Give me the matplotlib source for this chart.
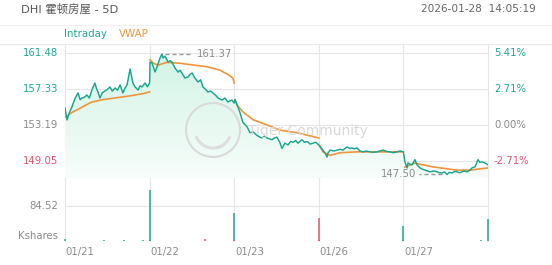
import matplotlib
matplotlib.use("Agg")
import matplotlib.pyplot as plt
import numpy as np
from matplotlib.lines import Line2D
from matplotlib.patches import Circle, Arc
from matplotlib.colors import LinearSegmentedColormap

plt.rcParams['font.family'] = ['DejaVu Sans', 'Noto Sans CJK SC']

# ---------------- data ----------------
title = "DHI 霍顿房屋 - 5D"
timestamp = "2026-01-28  14:05:19"
day_labels = ["01/21", "01/22", "01/23", "01/26", "01/27"]
prev_close = 153.19
price_ticks = [161.48, 157.33, 153.19, 149.05]
pct_labels = ["5.41%", "2.71%", "0.00%", "-2.71%"]
vol_tick = 84.52

# minutes since open / intraday price, per day
d1_min = [0, 9, 20, 32, 45, 60, 70, 78, 90, 101, 112, 124, 138, 145, 152, 161, 172, 184, 196, 207, 218, 231, 242, 254, 267, 276, 286, 300, 313, 323, 337, 346, 355, 369, 380, 390]
d1_px = [155.15, 153.77, 154.60, 155.27, 156.20, 156.88, 156.10, 156.30, 156.40, 156.65, 156.30, 157.22, 158.03, 157.40, 156.99, 156.30, 156.90, 157.11, 157.30, 157.57, 157.10, 157.45, 157.20, 157.80, 156.88, 157.40, 157.80, 159.64, 158.03, 157.57, 157.22, 157.70, 157.57, 158.03, 157.60, 158.03]
d1_vwap_min = [0, 30, 75, 120, 170, 230, 300, 360, 390]
d1_vwap = [154.10, 154.60, 155.20, 155.80, 156.10, 156.30, 156.55, 156.80, 157.00]

d2_min = [2, 11, 25, 34, 48, 57, 62, 71, 85, 95, 103, 117, 131, 140, 149, 163, 177, 186, 196, 209, 223, 235, 246, 258, 269, 281, 292, 305, 315, 334, 347, 361, 379, 390]
d2_px = [160.44, 160.33, 159.30, 159.87, 160.90, 161.37, 160.90, 161.13, 160.44, 160.60, 160.44, 159.75, 159.29, 159.50, 159.18, 158.60, 158.72, 159.00, 159.18, 158.60, 158.14, 158.40, 157.57, 157.30, 156.99, 157.10, 156.88, 156.60, 156.30, 156.07, 156.30, 155.84, 156.07, 155.72]
d2_vwap_min = [2, 17, 39, 80, 140, 200, 265, 325, 361, 384, 390]
d2_vwap = [160.70, 160.30, 160.10, 160.40, 160.30, 160.10, 159.90, 159.50, 159.00, 158.60, 158.03]

d3_min = [4, 13, 27, 40, 59, 73, 87, 105, 118, 128, 140, 151, 163, 174, 186, 197, 210, 220, 234, 248, 260, 271, 284, 294, 312, 324, 336, 350, 363, 376, 390]
d3_px = [156.10, 155.50, 154.60, 153.50, 153.00, 152.30, 152.40, 152.00, 151.80, 151.70, 151.90, 151.70, 151.60, 151.50, 151.70, 151.80, 151.20, 150.50, 151.10, 150.90, 151.30, 151.20, 151.40, 151.10, 151.50, 151.20, 151.30, 151.00, 151.10, 151.20, 150.90]
d3_vwap_min = [4, 13, 40, 87, 151, 211, 290, 390]
d3_vwap = [156.10, 155.50, 154.70, 153.80, 153.20, 152.60, 152.30, 151.70]

d4_min = [6, 19, 30, 38, 42, 52, 70, 84, 100, 111, 130, 143, 153, 165, 176, 190, 204, 220, 236, 252, 268, 282, 296, 312, 328, 344, 360, 375, 390]
d4_px = [150.66, 150.30, 149.90, 149.50, 149.95, 150.30, 150.20, 150.30, 150.40, 150.30, 150.66, 150.50, 150.55, 150.45, 150.55, 150.20, 150.10, 150.20, 150.10, 150.05, 150.10, 150.20, 150.30, 150.15, 150.10, 150.00, 150.10, 150.20, 150.10]
d4_vwap_min = [6, 19, 52, 98, 176, 390]
d4_vwap = [150.80, 150.10, 149.70, 150.00, 150.10, 150.10]

d5_min = [7, 17, 21, 30, 40, 53, 63, 77, 88, 100, 112, 123, 140, 155, 166, 178, 190, 201, 212, 224, 236, 247, 259, 270, 282, 293, 305, 316, 330, 344, 352, 362, 376, 390]
d5_px = [148.94, 148.25, 148.83, 148.70, 148.60, 149.20, 148.60, 148.25, 148.10, 148.00, 147.90, 147.80, 147.90, 147.80, 147.70, 147.67, 147.80, 147.50, 147.75, 147.67, 147.85, 147.80, 147.70, 147.80, 147.90, 147.80, 147.95, 148.25, 148.37, 149.20, 148.90, 148.94, 148.83, 148.60]
d5_vwap_min = [7, 53, 136, 247, 307, 390]
d5_vwap = [148.36, 148.80, 148.37, 148.00, 148.00, 148.25]

# volume (thousand shares): minutes, values, up(1)/down(0)
d1_vol_min = [0, 45, 90, 135, 180, 225, 270, 315, 360, 390]
d1_vol = [4, 1, 1, 1, 1.5, 1, 1.5, 1, 1.5, 124.5]
d1_vol_up = [1, 0, 1, 0, 1, 0, 1, 0, 1, 1]
d2_vol_min = [0, 45, 90, 135, 180, 225, 255, 300, 345, 390]
d2_vol = [1.5, 1, 1, 1, 1, 1, 5, 1, 1, 68]
d2_vol_up = [1, 0, 1, 0, 1, 0, 0, 1, 0, 1]
d3_vol_min = [0, 45, 90, 135, 180, 225, 270, 315, 360, 390]
d3_vol = [1.5, 1, 1, 1, 1, 1, 1, 1, 1, 56]
d3_vol_up = [0, 1, 0, 1, 0, 1, 0, 1, 0, 0]
d4_vol_min = [0, 45, 90, 135, 180, 225, 270, 315, 360, 390]
d4_vol = [1.5, 1, 1, 1, 1, 1, 1, 1, 1, 37]
d4_vol_up = [0, 1, 0, 1, 0, 1, 0, 1, 0, 1]
d5_vol_min = [0, 45, 90, 135, 180, 225, 270, 315, 360, 390]
d5_vol = [1.5, 1, 1, 1, 1, 1, 1, 1, 2, 54]
d5_vol_up = [1, 0, 1, 0, 1, 0, 1, 0, 1, 1]

# ---------------- styling ----------------
TEAL = '#17a58c'
TEAL_TXT = '#1fa895'
ORANGE = '#f0943a'
RED_TXT = '#e6506a'
RED = '#e8506a'
GRAY_TXT = '#8a8a8a'
GRID = '#e6e6e6'

W, H = 552, 265
fig = plt.figure(figsize=(W / 100, H / 100), dpi=100)
fig.patch.set_facecolor('white')

def fx(px):
    return px / W

def fy(py):
    return 1 - py / H

L, R = 65, 488
T_MAIN, B_MAIN = 45, 178
T_VOL, B_VOL = 178, 241

ax = fig.add_axes([fx(L), fy(B_MAIN), fx(R) - fx(L), fy(T_MAIN) - fy(B_MAIN)])
axv = fig.add_axes([fx(L), fy(B_VOL), fx(R) - fx(L), fy(T_VOL) - fy(B_VOL)])

step = (price_ticks[0] - price_ticks[1])
px_per = 36.0 / step
ymax = price_ticks[0] + 8 / px_per
ymin = price_ticks[-1] - 17 / px_per

days_min = [d1_min, d2_min, d3_min, d4_min, d5_min]
days_px = [d1_px, d2_px, d3_px, d4_px, d5_px]
days_vm = [d1_vwap_min, d2_vwap_min, d3_vwap_min, d4_vwap_min, d5_vwap_min]
days_v = [d1_vwap, d2_vwap, d3_vwap, d4_vwap, d5_vwap]
vol_m = [d1_vol_min, d2_vol_min, d3_vol_min, d4_vol_min, d5_vol_min]
vol_v = [d1_vol, d2_vol, d3_vol, d4_vol, d5_vol]
vol_u = [d1_vol_up, d2_vol_up, d3_vol_up, d4_vol_up, d5_vol_up]

x_all = np.concatenate([d + np.array(m) / 390.0 for d, m in enumerate(days_min)])
p_all = np.concatenate([np.array(p) for p in days_px])

for a in (ax, axv):
    a.set_xlim(0, 5)
    a.axis('off')
ax.set_ylim(ymin, ymax)
vol_top = vol_tick * (B_VOL - T_VOL + 2) / 36.0
axv.set_ylim(0, vol_top)

# gridlines
for t in price_ticks:
    ax.axhline(t, color=GRID, lw=0.8, zorder=0)
axv.axhline(vol_tick, color=GRID, lw=0.8, zorder=0)
for d in range(6):
    ax.axvline(d, color=GRID, lw=0.8, zorder=0, clip_on=False)
    axv.axvline(d, color=GRID, lw=0.8, zorder=0, clip_on=False)

# gradient fill under price
poly = ax.fill_between(x_all, p_all, ymin, color='none', lw=0)
grad = np.linspace(0, 1, 256).reshape(-1, 1)
cmap = LinearSegmentedColormap.from_list('g', ['#f7fdfa', '#d0f3e5'])
im = ax.imshow(grad, extent=[0, 5, ymin, ymax], origin='lower', aspect='auto', cmap=cmap, zorder=1)
im.set_clip_path(poly.get_paths()[0], transform=ax.transData)

ax.plot(x_all, p_all, color=TEAL, lw=1.05, zorder=4)
for d in range(5):
    ax.plot(d + np.array(days_vm[d]) / 390.0, days_v[d], color=ORANGE, lw=1.2, zorder=3)

# high / low annotations
ih = int(np.argmax(p_all)); il = int(np.argmin(p_all))
xh, yh = x_all[ih], p_all[ih]
xl, yl = x_all[il], p_all[il]
ax.plot([xh + 0.04, xh + 0.33], [yh, yh], color='#999999', lw=1.0, ls=(0, (3, 2)), zorder=5)
ax.text(xh + 0.41, yh, f"{yh:.2f}", color=GRAY_TXT, fontsize=7.3, va='center', ha='left', zorder=5)
ax.plot([xl - 0.06, xl - 0.33], [yl, yl], color='#999999', lw=1.0, ls=(0, (3, 2)), zorder=5, clip_on=False)
ax.text(xl - 0.36, yl, f"{yl:.2f}", color=GRAY_TXT, fontsize=7.3, va='center', ha='right', zorder=5, clip_on=False)

# volume
for d in range(5):
    xs = d + np.array(vol_m[d]) / 390.0
    cols = [TEAL if u else RED for u in vol_u[d]]
    axv.vlines(xs, 0, vol_v[d], colors=cols, lw=1.2, zorder=3, alpha=0.9, clip_on=False)

# axis labels
tcols = [TEAL_TXT, TEAL_TXT, GRAY_TXT, RED_TXT]
for t, lab, c in zip(price_ticks, pct_labels, tcols):
    ax.text(-0.085, t, f"{t:.2f}", color=c, fontsize=7.3, ha='right', va='center', clip_on=False)
    ax.text(1.014, t, lab, color=c, fontsize=7.3, ha='left', va='center',
            transform=ax.get_yaxis_transform(), clip_on=False)
axv.text(-0.085, vol_tick, f"{vol_tick:.2f}", color=GRAY_TXT, fontsize=7.3, ha='right', va='center', clip_on=False)
axv.text(-0.085, 0, "Kshares", color=GRAY_TXT, fontsize=7.3, ha='right', va='bottom', clip_on=False)
for d, lab in enumerate(day_labels):
    axv.text(d + 0.01, -0.17, lab, color=GRAY_TXT, fontsize=7.3, ha='left', va='center',
             transform=axv.get_xaxis_transform(), clip_on=False)

# header
fig.text(fx(21), fy(9), title, color='#555555', fontsize=8.2, ha='left', va='center')
fig.text(fx(536), fy(9), timestamp, color='#666666', fontsize=7.6, ha='right', va='center')
fig.add_artist(Line2D([0, 1], [fy(25), fy(25)], color='#f0f0f0', lw=0.8))
fig.add_artist(Line2D([0, 1], [fy(44), fy(44)], color='#e8e8e8', lw=0.8))
fig.text(fx(64), fy(34), "Intraday", color=TEAL_TXT, fontsize=7.4, ha='left', va='center')
fig.text(fx(119), fy(34), "VWAP", color=ORANGE, fontsize=7.4, ha='left', va='center')

# watermark
wm = Circle((213, H - 130), 27, transform=None, fill=False, ec='#dadada', lw=1.5, zorder=6)
fig.add_artist(wm)
fig.add_artist(Arc((213, H - 130), 36, 36, theta1=200, theta2=340, transform=None, ec='#dedede', lw=2.2, zorder=6))
fig.text(fx(248), fy(131), "Tiger Community", color='#d8d8d8', fontsize=10, ha='left', va='center', zorder=6)

fig.savefig("out.png", dpi=100, facecolor='white')
